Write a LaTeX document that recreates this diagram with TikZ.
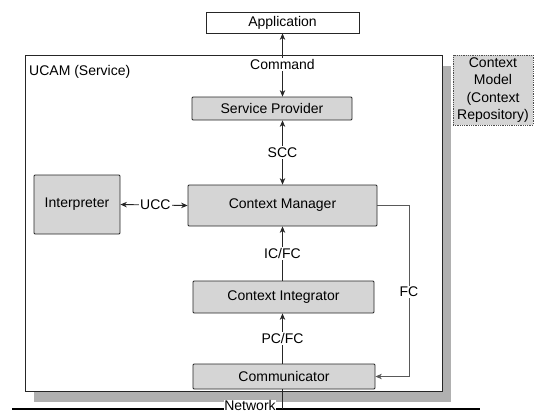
\documentclass[tikz,border=0pt]{standalone}
\usepackage{fontspec}
\setmainfont{Liberation Sans}
\usetikzlibrary{arrows.meta}
\begin{document}
\begin{tikzpicture}[x=1pt,y=-1pt,
  font=\fontsize{14}{16}\selectfont,
  box/.style={draw=black!85, line width=0.8pt, fill=gray!33, rounded corners=1pt, inner sep=0pt},
  plain/.style={draw=black!85, line width=0.8pt, fill=white, inner sep=0pt},
  lab/.style={fill=white, inner sep=1.2pt},
  conn/.style={line width=0.9pt, black!85},
  tipr/.style={-{Stealth[length=6.5pt,width=5.5pt]}},
  tipb/.style={{Stealth[length=6.5pt,width=5.5pt]}-{Stealth[length=6.5pt,width=5.5pt]}},
  fcline/.style={line width=0.7pt, black!65},
]
\useasboundingbox (0,0) rectangle (544,413);

% shadow and UCAM container
\fill[gray!62] (34,66) rectangle (451,402);
\node[plain, minimum width=417pt, minimum height=336pt] (ucam) at (233.5,223) {};
\node[anchor=west, inner sep=0pt] (ucamlab) at (29,72) {UCAM (Service)};

% context model
\node[box, rounded corners=0pt, draw=black!70, densely dotted, minimum width=80pt, minimum height=70pt,
      align=center, font=\fontsize{14}{17.5}\selectfont] (cmodel) at (493,90)
      {Context\\Model\\(Context\\Repository)};

% main boxes
\node[plain, minimum width=153pt, minimum height=21pt] (app) at (282.5,22.5) {Application};
\node[box, minimum width=160pt, minimum height=23pt] (sp) at (272,108.5) {Service Provider};
\node[box, minimum width=189pt, minimum height=41pt] (cm) at (282.5,205.5) {Context Manager};
\node[box, minimum width=86pt, minimum height=59pt] (interp) at (77,204.5) {Interpreter};
\node[box, minimum width=181pt, minimum height=32pt] (ci) at (283.5,297) {Context Integrator};
\node[box, minimum width=182pt, minimum height=25pt] (comm) at (284,376.5) {Communicator};

% connectors
\draw[conn, tipb] (app.south -| cm.north) -- (sp.north -| cm.north)
  node[lab, pos=0.49, text=black] (cmdlab) {Command};
\draw[conn, tipb] (sp.south -| cm.north) -- (cm.north)
  node[lab, pos=0.5, text=black] (scclab) {SCC};
\draw[conn, tipb] (interp.east) -- (cm.west)
  node[lab, pos=0.52, text=black] (ucclab) {UCC};
\draw[conn, tipr] (ci.north -| cm.south) -- (cm.south)
  node[lab, pos=0.5, text=black] (icfclab) {IC/FC};
\draw[conn, tipr] (comm.north -| cm.south) -- (ci.south -| cm.south)
  node[lab, pos=0.5, text=black] (pcfclab) {PC/FC};

% FC feedback line
\coordinate (fcTop) at (409,205.5);
\coordinate (fcBot) at (409,376.5);
\draw[fcline, tipr] (cm.east) -- (fcTop) -- (fcBot) -- (comm.east);
\node[lab, text=black] (fclab) at (409,292) {FC};

% network
\coordinate (netL) at (12,409);
\coordinate (netR) at (480,409);
\draw[line width=1.6pt] (netL) -- (netR);
\draw[conn] (comm.south -| cm.south) -- (netL -| cm.south);
\node[lab, anchor=base, inner sep=0.3pt] (netlab) at (250,410) {Network};
\end{tikzpicture}
\end{document}
